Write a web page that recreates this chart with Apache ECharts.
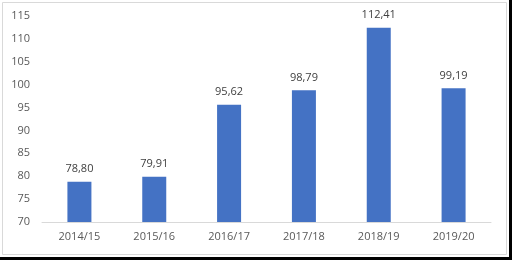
<!DOCTYPE html>
<html><head><meta charset="utf-8">
<script src="https://cdn.jsdelivr.net/npm/echarts@6/dist/echarts.min.js"></script>
<style>html,body{margin:0;padding:0;background:#fff}#c{width:512px;height:260px}</style>
</head><body><div id="c"></div>
<script>
var categories = ['2014/15','2015/16','2016/17','2017/18','2018/19','2019/20'];
var values = [78.80, 79.91, 95.62, 98.79, 112.41, 99.19];
var yTicks = [70,75,80,85,90,95,100,105,110,115];
var chart = echarts.init(document.getElementById('c'), null, {renderer:'canvas'});
var font = '"Open Sans", "Noto Sans", sans-serif';
chart.setOption({
  animation:false,
  backgroundColor:'#fff',
  grid:{left:42, right:21, top:16, bottom:38},
  graphic:[
    {type:'rect', shape:{x:2.5,y:2.5,width:504,height:252}, style:{fill:null, stroke:'#d9d9d9', lineWidth:1}},
    {type:'rect', shape:{x:0,y:257,width:512,height:3}, style:{fill:'#000'}},
    {type:'rect', shape:{x:509,y:0,width:3,height:260}, style:{fill:'#000'}}
  ],
  xAxis:{type:'category', data:categories,
    axisLine:{lineStyle:{color:'#d9d9d9'}}, axisTick:{show:false},
    axisLabel:{color:'#595959', fontSize:11, fontFamily:font, margin:9}},
  yAxis:{type:'value', min:yTicks[0], max:yTicks[yTicks.length-1], interval:5,
    splitLine:{show:false}, axisLine:{show:false}, axisTick:{show:false},
    axisLabel:{color:'#595959', fontSize:11, fontFamily:font, margin:12}},
  series:[{type:'bar', data:values, barWidth:24, itemStyle:{color:'#4472c4'},
    label:{show:true, position:'top', distance:7, color:'#404040', fontSize:11, fontFamily:font,
      formatter:function(p){return p.value.toFixed(2).replace('.',',');}}}]
});
</script></body></html>
